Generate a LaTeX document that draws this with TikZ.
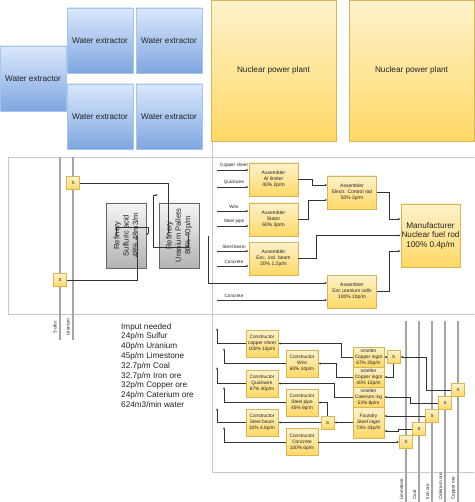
\documentclass[tikz,border=0pt]{standalone}
\usepackage{fontspec}
\setmainfont{Liberation Sans}
\usetikzlibrary{arrows.meta}

\definecolor{bluetop}{HTML}{DAE8FC}
\definecolor{bluebot}{HTML}{7EA6E0}
\definecolor{blueline}{HTML}{A9C4EB}
\definecolor{yeltop}{HTML}{FFF2CC}
\definecolor{yelbot}{HTML}{FFD966}
\definecolor{yelline}{HTML}{D6B656}
\definecolor{graytop}{HTML}{F5F5F5}
\definecolor{graybot}{HTML}{B3B3B3}
\definecolor{grayline}{HTML}{666666}
\definecolor{beltc}{HTML}{A6A6A6}
\definecolor{panelc}{HTML}{C8C8C8}
\definecolor{linec}{HTML}{333333}
\definecolor{txt}{HTML}{222222}

\newcommand{\fsz}[2]{\fontsize{#1}{#2}\selectfont}

\begin{document}
\begin{tikzpicture}[x=1pt,y=-1pt,
  box/.style={draw=#1line, top color=#1top, bottom color=#1bot, inner sep=0pt, align=center, text=txt},
  water/.style={box=blue, minimum width=66pt, minimum height=65pt, font=\fsz{8.2}{10}},
  plant/.style={box=yel, minimum width=125pt, minimum height=141pt, font=\fsz{8.2}{10}},
  refinery/.style={draw=grayline, top color=graytop, bottom color=graybot, rotate=90, minimum width=65pt, minimum height=40pt, inner sep=0pt, align=center, text=txt, font=\fsz{7.6}{9.3}},
  asm/.style={box=yel, minimum width=49pt, minimum height=33pt, font=\fsz{5}{5.8}},
  manuf/.style={box=yel, minimum width=59pt, minimum height=63pt, font=\fsz{8.2}{9.6}},
  smelt/.style={box=yel, minimum width=31pt, minimum height=20pt, font=\fsz{4.8}{5.8}},
  cons/.style={box=yel, minimum width=32pt, minimum height=27pt, font=\fsz{4.8}{6}},
  splitbox/.style={box=yel, minimum width=13pt, minimum height=13pt, font=\fsz{4.5}{5}},
  lbl/.style={inner sep=0.5pt, font=\fsz{4.6}{5}, text=txt},
  beltlbl/.style={rotate=90, inner sep=0pt, font=\fsz{4.6}{5}, text=txt},
  belt/.style={draw=beltc, line width=2.5pt},
  panel/.style={draw=panelc, line width=0.6pt},
  conn/.style={draw=linec, line width=0.5pt, -{Latex[length=2.4pt,width=2pt]}}]
\useasboundingbox (0,0) rectangle (474,502);

% panels
\draw[panel] (212,0) -- (212,472) -- (474,472);
\draw[panel] (474,157) -- (8,157) -- (8,314) -- (474,314);

% water and power
\node[water] (w1) at (33,78.5) {Water extractor};
\node[water] (w2) at (100,40.5) {Water extractor};
\node[water] (w3) at (169,40.5) {Water extractor};
\node[water] (w4) at (100,116.5) {Water extractor};
\node[water] (w5) at (169,116.5) {Water extractor};
\node[plant] (p1) at (273.5,70.5) {Nuclear power plant};
\node[plant] (p2) at (411.5,70.5) {Nuclear power plant};

% sulfur and uranium
\draw[belt] (60,157) -- (60,340);
\draw[belt] (73,157) -- (73,340);
\node[beltlbl] (lS) at (55,327) {Sulfur};
\node[beltlbl] (lU) at (68,327) {Uranium};
\node[splitbox] (sU) at (73,183) {S};
\node[splitbox] (sS) at (60,280) {S};
\node[refinery] (refS) at (126,235.5) {Refinery\\Sulfuric acid\\48\% 48m3/m};
\node[refinery] (refU) at (179,235.5) {Refinery\\Uranium Pallets\\80\% 40p/m};
\coordinate (merge) at (158,195);
\draw[conn] (sU.east) -| ([xshift=9pt]refU.north);
\draw[conn] (sS.east) -| ([xshift=-9pt]refS.south);
\draw[conn] ([xshift=10pt]refS.north) -- ++(0,-8) -| ([xshift=-11pt]refU.north);
\draw[conn] ([xshift=-11pt]refU.south) -- ++(0,12) -| (153,195) -- (merge);

% assemblers
\node[asm] (ai) at (273.5,179.5) {Assembler\\AI limiter\\40\% 2p/m};
\node[asm] (stator) at (273.5,219.5) {Assembler\\Stator\\60\% 3p/m};
\node[asm] (beam) at (273.5,258.5) {Assembler\\Enc. ind. beam\\20\% 1.2p/m};
\node[asm] (ctrl) at (352,192.5) {Assembler\\Electr. Control rod\\50\% 2p/m};
\node[asm] (encU) at (352,291.5) {Assembler\\Enc uranium cells\\100\% 10p/m};
\node[manuf] (fuel) at (430.5,235.5) {Manufacturer\\Nuclear fuel rod\\100\% 0.4p/m};
\foreach \y/\t/\n in {170/Copper sheet/ai, 187/Quickwire/ai, 211/Wire/stator,
  226/Steel pipe/stator, 251/Steel beam/beam, 266/Concrete/beam, 300/Concrete/encU}{
  \coordinate (in\y) at (217,\y);
  \node[lbl] (lab\y) at (234,\y-4.5) {\t};
  \draw[conn] (in\y) -- (in\y -| \n.west);
}
\draw[conn] ([xshift=9pt]refU.south) |- ([yshift=8.5pt]encU.west);
\draw[conn] (ai.east) -- ++(14,0) |- ([yshift=7.5pt]ctrl.west);
\draw[conn] (stator.east) -- ++(10,0) |- ([yshift=-7.5pt]ctrl.west);
\draw[conn] (ctrl.east) -- ++(13,0) |- ([yshift=16.5pt]fuel.west);
\draw[conn] (beam.east) -- ++(18,0) |- (fuel.west);
\draw[conn] (encU.east) -- ++(13,0) |- ([yshift=-15.5pt]fuel.west);

% input list
\node[anchor=north west, align=left, inner sep=0pt, text=txt, font=\fsz{8.2}{9.8}] (need) at (121,323)
  {Imput needed\\24p/m Sulfur\\40p/m Uranium\\45p/m Limestone\\32.7p/m Coal\\32.7p/m Iron ore\\32p/m Copper ore\\24p/m Caterium ore\\624m3/min water};

% ore belts
\foreach \x/\t in {406/Limestone, 419/Coal, 432/Iron ore, 445/Caterium ore, 458/Copper ore}{
  \draw[belt] (\x,321) -- (\x,502);
  \node[beltlbl, anchor=west] (l\x) at (\x-4.5,500) {\t};
}
\node[splitbox] (sLime) at (406,442) {S};
\node[splitbox] (sCoal) at (419,429) {S};
\node[splitbox] (sIron) at (432,416) {S};
\node[splitbox] (sCat) at (445,403) {S};
\node[splitbox] (sCu) at (458,390) {S};

% smelters
\node[smelt] (cu1) at (368.5,357) {smelter\\Copper ingot\\67\% 20p/m};
\node[smelt] (cu2) at (368.5,377) {smelter\\Copper ingot\\40\% 12p/m};
\node[smelt] (cat) at (368.5,397) {smelter\\Caterium ing\\53\% 8p/m};
\node[smelt, minimum height=31pt] (steel) at (368.5,422.5) {Foundry\\Steel ingot\\73\% 33p/m};
\node[splitbox] (sCu2) at (393.5,357) {S};
\draw[conn] (sCu.west) -- ++(-25,0) |- (sCu2.east);
\draw[conn] (sCu2.west) -- (cu1.east);
\draw[conn] (sCu2.south) |- (cu2.east);
\draw[conn] (sCat.west) -- ++(-28,0) |- (cat.east);
\draw[conn] (sIron.west) -- ([yshift=6.5pt]steel.east);
\draw[conn] (sCoal.west) -- ++(-14,0) |- ([yshift=-8.5pt]steel.east);

% constructors
\node[cons] (csheet) at (262,343.5) {Constructor\\copper sheet\\100\% 10p/m};
\node[cons] (cwire) at (302,363.5) {Constructor\\Wire\\60\% 24p/m};
\node[cons] (cquick) at (262,383.5) {Constructor\\Quickwire\\67\% 40p/m};
\node[cons] (cpipe) at (302,402.5) {Constructor\\Steel pipe\\45\% 9p/m};
\node[cons] (cbeam) at (262,422.5) {Constructor\\Steel beam\\32\% 4.8p/m};
\node[cons] (cconc) at (302,442) {Constructor\\Concrete\\100\% 6p/m};
\node[splitbox] (sSteel) at (327.5,422.5) {S};
\draw[conn] (cu1.west) -- ++(-12,0) |- (csheet.east);
\draw[conn] (cu2.west) -- ++(-17,0) |- (cwire.east);
\draw[conn] (cat.west) -- ++(-19,0) |- (cquick.east);
\draw[conn] (steel.west) -- (sSteel.east);
\draw[conn] (sSteel.north) |- (cpipe.east);
\draw[conn] (sSteel.west) -- (cbeam.east);
\draw[conn] (cconc.east) -- (sLime.west);

% outputs
\coordinate (o1) at (217,328);
\coordinate (o2) at (224,348);
\coordinate (o3) at (217,367);
\coordinate (o4) at (224,387);
\coordinate (o5) at (217,408);
\coordinate (o6) at (224,427);
\draw[conn] (csheet.west) -| (o1);
\draw[conn] (cwire.west) -| (o2);
\draw[conn] (cquick.west) -| (o3);
\draw[conn] (cpipe.west) -| (o4);
\draw[conn] (cbeam.west) -| (o5);
\draw[conn] (cconc.west) -| (o6);
\end{tikzpicture}
\end{document}
